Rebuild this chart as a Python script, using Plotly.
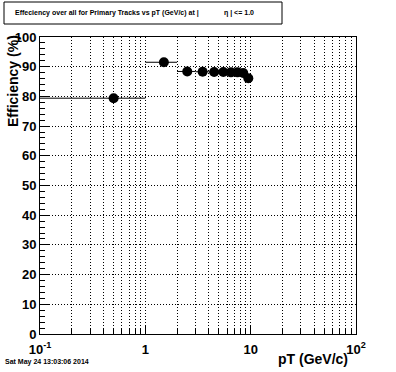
import plotly.graph_objects as go

# Data
pt_center = [0.5, 1.5, 2.5, 3.5, 4.5, 5.5, 6.5, 7.5, 8.5, 9.5]
bin_lo = [0.0, 1.0, 2.0, 3.0, 4.0, 5.0, 6.0, 7.0, 8.0, 9.0]
bin_hi = [1.0, 2.0, 3.0, 4.0, 5.0, 6.0, 7.0, 8.0, 9.0, 10.0]
efficiency = [79.4, 91.5, 88.4, 88.3, 88.2, 88.2, 88.1, 88.1, 87.9, 86.1]

x_major = [0.1, 1, 10, 100]
x_major_text = ["10<sup>-1</sup>", "1", "10", "10<sup>2</sup>"]
x_minor = [m * d for d in (0.1, 1, 10) for m in range(2, 10)]

W, H = 396, 372
L, R, T, B = 40, 40, 37, 38

def px(x):
    return (x - L) / (W - L - R)

def py(y):
    return (H - B - y) / (H - T - B)

err_plus = [h - c for h, c in zip(bin_hi, pt_center)]
err_minus = [c - l for c, l in zip(pt_center, bin_lo)]

FONT = "Liberation Sans Narrow, Liberation Sans, Arial, sans-serif"
FONT2 = "Liberation Sans, Arial, sans-serif"
DOT = "1px,2px"

fig = go.Figure()
fig.add_trace(go.Scatter(
    x=pt_center, y=efficiency, mode="markers",
    marker=dict(color="black", size=10, symbol="circle"),
    error_x=dict(type="data", symmetric=False, array=err_plus, arrayminus=err_minus,
                 color="black", thickness=1, width=0),
    showlegend=False, hoverinfo="skip",
))

fig.update_layout(
    width=W, height=H,
    margin=dict(l=L, r=R, t=T, b=B),
    paper_bgcolor="white", plot_bgcolor="white",
    xaxis=dict(
        type="log", range=[-1, 2],
        tickvals=x_major, ticktext=x_major_text,
        ticks="inside", ticklen=9, tickcolor="black", tickwidth=1,
        ticklabelstandoff=3,
        showgrid=True, gridcolor="black", griddash=DOT, gridwidth=1,
        minor=dict(tickmode="array", tickvals=x_minor, ticks="inside", ticklen=5,
                   tickcolor="black", showgrid=True, gridcolor="black", griddash=DOT, gridwidth=1),
        showline=True, linecolor="black", linewidth=1, mirror=True,
        zeroline=False,
        tickfont=dict(family=FONT, size=13, color="black", weight="bold"),
    ),
    yaxis=dict(
        range=[0, 100], tickmode="linear", tick0=0, dtick=10,
        ticks="inside", ticklen=9, tickcolor="black", tickwidth=1,
        showgrid=True, gridcolor="black", griddash=DOT, gridwidth=1,
        minor=dict(dtick=2, ticks="inside", ticklen=5, tickcolor="black", showgrid=False),
        showline=True, linecolor="black", linewidth=1, mirror=True,
        zeroline=False,
        tickfont=dict(family=FONT, size=13, color="black", weight="bold"),
    ),
)

# Title box
fig.add_shape(type="rect", xref="paper", yref="paper",
              x0=px(4), x1=px(282), y0=py(24), y1=py(2),
              line=dict(color="black", width=1), fillcolor="white")
fig.add_annotation(xref="paper", yref="paper", x=px(13), y=py(13), xanchor="left", yanchor="middle",
                   text="Effeciency over all for Primary Tracks vs pT (GeV/c) at |",
                   showarrow=False, font=dict(family=FONT2, size=7, color="black", weight="bold"))
fig.add_annotation(xref="paper", yref="paper", x=px(222), y=py(13), xanchor="left", yanchor="middle",
                   text="η | <= 1.0",
                   showarrow=False, font=dict(family=FONT2, size=7, color="black", weight="bold"))

# Axis titles
fig.add_annotation(xref="paper", yref="paper", x=px(350), y=py(359), xanchor="right", yanchor="middle",
                   text="pT (GeV/c)", showarrow=False,
                   font=dict(family=FONT2, size=14, color="black", weight="bold"))
fig.add_annotation(xref="paper", yref="paper", x=px(13), y=py(33), xanchor="center", yanchor="top",
                   text="Efficiency (%)", textangle=-90, showarrow=False,
                   font=dict(family=FONT2, size=14, color="black", weight="bold"))

# Date stamp
fig.add_annotation(xref="paper", yref="paper", x=px(3), y=py(362), xanchor="left", yanchor="middle",
                   text="Sat May 24 13:03:06 2014", showarrow=False,
                   font=dict(family=FONT2, size=7, color="black", weight="bold"))

fig.write_html("out.html", config={"displayModeBar": False},
               post_script="document.body.style.margin='0';document.body.style.padding='0';")
